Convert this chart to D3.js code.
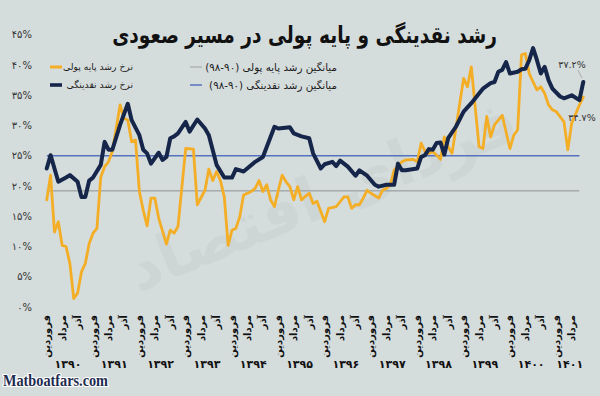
<!DOCTYPE html>
<html><head><meta charset="utf-8">
<script src="https://cdn.jsdelivr.net/npm/d3@7"></script>
<style>
html,body{margin:0;padding:0;background:#d5dcdc;}
svg{display:block;}
</style></head>
<body>
<svg id="chart" width="600" height="396"></svg>
<script>
// ---------- DATA ----------
const title = "رشد نقدینگی و پایه پولی در مسیر صعودی";
const years = ["1390","1391","1392","1393","1394","1395","1396","1397","1398","1399","1400","1401"];
const monthsPerYear = [12,12,12,12,12,12,12,12,12,12,12,8];
const monthLabels = ["فروردین","مرداد","آذر"];
const monthLabelOffsets = [0,4,8];
const yTicks = [0,5,10,15,20,25,30,35,40,45];

const seriesNames = ["نرخ رشد پایه پولی","نرخ رشد نقدینگی","میانگین رشد پایه پولی (۹۰-۹۸)","میانگین رشد نقدینگی (۹۰-۹۸)"];

// month index from Farvardin 1390
const liqMonths = [0,1,3,5,6,8,9,10,11,12,14,15,16,17,19,21,22,24,25,26,27,29,30,31,32,33,34,36,37,39,41,42,44,46,48,49,51,54,56,59,60,63,64,66,68,69,71,72,74,75,76,78,80,81,83,85,86,88,90,91,92,93,96,97,98,99,100,101,102,103,104,106,108,110,112,113,115,116,117,118,119,120,122,123,124,125,126,127,128,129,130,131,133,134,136,138,139];
const liqValues = [22.9,25.1,20.7,21.4,21.8,20.7,18.2,18.2,20.9,21.4,23.5,27.3,26.0,26.0,30.1,33.6,30.9,28.4,26.0,25.4,23.7,25.5,24.3,24.8,27.9,28.2,28.7,30.6,29.0,31.0,29.5,28.4,23.5,21.4,21.4,22.8,22.4,24.0,24.8,29.8,29.5,29.7,28.7,28.2,27.9,25.4,22.9,23.6,24.0,23.3,24.2,23.2,21.7,22.6,21.7,20.2,19.9,20.2,20.2,23.7,22.6,22.6,22.9,24.8,25.1,26.1,26.0,27.1,27.2,25.2,27.9,29.8,32.3,33.7,35.3,36.1,37.0,37.2,38.9,39.2,40.5,38.6,38.9,39.3,39.4,40.8,42.8,40.8,38.6,39.7,37.5,36.1,34.8,34.5,35.0,34.2,37.2];

const baseMonths = [0,1,2,3,4,5,6,7,8,9,10,11,12,13,14,15,16,17,19,20,21,22,23,24,25,26,27,28,29,31,32,33,34,36,38,39,41,42,43,44,45,46,47,48,49,50,51,53,54,55,56,57,58,59,60,61,62,63,64,65,66,67,68,69,70,72,73,75,76,77,78,79,80,81,82,83,84,86,87,88,89,90,92,93,95,96,97,98,99,100,101,102,103,104,105,108,109,110,111,112,113,114,115,116,118,120,121,122,123,124,125,126,127,128,129,130,131,132,134,135,136,138,139];
const baseValues = [17.7,21.8,12.4,14.1,10.2,10.0,7.2,1.4,2.3,5.8,7.2,10.5,12.2,13.0,21.5,23.2,24.0,25.7,33.4,31.2,30.9,27.3,27.6,19.1,16.0,13.4,18.0,18.0,14.7,10.4,12.7,12.2,13.3,26.2,26.1,16.9,19.3,22.8,20.9,22.4,20.9,18.2,10.2,12.7,13.0,14.9,18.5,19.1,19.6,20.9,19.1,20.2,17.7,16.6,19.3,21.8,20.7,19.9,17.7,19.9,17.7,18.3,18.8,17.1,17.5,14.1,16.3,16.6,17.4,18.2,18.2,16.3,16.9,16.9,18.0,19.3,18.8,18.0,19.3,19.6,20.2,22.6,24.0,24.3,24.4,24.0,27.1,25.7,25.4,25.7,25.1,24.4,28.1,26.5,25.4,37.8,36.4,39.7,33.1,26.5,26.2,31.5,28.1,30.1,31.7,26.2,28.4,29.3,41.7,41.9,38.6,37.2,35.9,36.4,35.3,33.4,32.6,32.3,30.6,26.0,30.4,33.4,34.7];

const avgMonths = [0,138];
const avgLiqValue = 25.0;
const avgBaseValue = 19.2;
const endLabelLiq = "37.2%";
const endLabelBase = "34.7%";

// ---------- HELPERS ----------
const fa = s => String(s).replace(/[0-9]/g, d => "۰۱۲۳۴۵۶۷۸۹"[+d]);
const FONT = "DejaVu Sans";
const totalMonths = d3.sum(monthsPerYear);

const svg = d3.select("#chart");
const x = d3.scaleLinear().domain([0,totalMonths]).range([44.8, 44.8 + totalMonths*3.86]);
const y = d3.scaleLinear().domain([0,45]).range([307, 34.8]);
const px = m => x(m + 0.5);

svg.append("rect").attr("width",600).attr("height",396).attr("fill","#d5dcdc");

// watermark
svg.append("text")
  .attr("transform","translate(330,215) rotate(-22)")
  .attr("text-anchor","middle").attr("direction","rtl")
  .attr("font-family",FONT).attr("font-weight","bold").attr("font-size",62)
  .attr("fill","#c6cdcd").attr("opacity",0.45)
  .text("فردای اقتصاد");

// fit helper: position text so its bbox right edge = right, width = w
function fitRight(sel, right, w){
  const node = sel.node();
  let bb = node.getBBox();
  if (w){
    const fs = parseFloat(sel.attr("font-size"));
    sel.attr("font-size", fs * w / bb.width);
    bb = node.getBBox();
  }
  const cur = parseFloat(sel.attr("x"));
  sel.attr("x", cur + (right - (bb.x + bb.width)));
  return parseFloat(sel.attr("font-size"));
}

// title
const tg = svg.append("g").attr("transform","translate(0,43) scale(1,1.25)");
const t = tg.append("text").attr("x",0).attr("y",0)
  .attr("direction","rtl").attr("font-family",FONT).attr("font-weight","bold")
  .attr("font-size",24).attr("fill","#111").text(title);
fitRight(t, 497, 385);

// y axis labels
svg.append("g").selectAll("text").data(yTicks).join("text")
  .attr("x",32).attr("y",d=>y(d)).attr("dy","0.35em")
  .attr("text-anchor","end").attr("font-family",FONT).attr("font-size",10)
  .attr("fill","#333").text(d=>fa(d)+"%");

// x axis month labels
const monthTicks = [];
let start = 0;
years.forEach((yr,i)=>{
  monthLabelOffsets.forEach((o,j)=>{ if (o < monthsPerYear[i]) monthTicks.push({m:start+o, label:monthLabels[j]}); });
  start += monthsPerYear[i];
});
svg.append("g").selectAll("text").data(monthTicks).join("text")
  .attr("transform",d=>`translate(${px(d.m)},315) rotate(-90)`)
  .attr("text-anchor","end").attr("dominant-baseline","central")
  .attr("font-family",FONT).attr("font-weight","bold").attr("font-size",10).attr("fill","#111")
  .text(d=>d.label);

// year labels
let acc = 0;
const yearPos = years.map((yr,i)=>{ const c = acc + monthsPerYear[i]/2; acc += monthsPerYear[i]; return {yr, c}; });
svg.append("g").selectAll("text").data(yearPos).join("text")
  .attr("x",d=>x(d.c)).attr("y",364).attr("dy","0.35em").attr("text-anchor","middle")
  .attr("font-family",FONT).attr("font-weight","bold").attr("font-size",11).attr("fill","#111")
  .text(d=>fa(d.yr));

// average lines
const line = d3.line().x(d=>px(d[0])).y(d=>y(d[1]));
svg.append("path").attr("d", line(avgMonths.map(m=>[m,avgBaseValue])))
  .attr("fill","none").attr("stroke","#8e9393").attr("stroke-width",1);
svg.append("path").attr("d", line(avgMonths.map(m=>[m,avgLiqValue])))
  .attr("fill","none").attr("stroke","#5573bd").attr("stroke-width",1.5);

// base money (yellow)
svg.append("path").attr("d", line(baseMonths.map((m,i)=>[m,baseValues[i]])))
  .attr("fill","none").attr("stroke","#f4ae26").attr("stroke-width",2.8)
  .attr("stroke-linejoin","round").attr("stroke-linecap","round");
// liquidity (navy)
svg.append("path").attr("d", line(liqMonths.map((m,i)=>[m,liqValues[i]])))
  .attr("fill","none").attr("stroke","#15264a").attr("stroke-width",4)
  .attr("stroke-linejoin","round").attr("stroke-linecap","round");

// end labels
svg.append("line").attr("x1",578).attr("y1",70).attr("x2",582).attr("y2",78)
  .attr("stroke","#9aa0a0").attr("stroke-width",0.8);
svg.append("text").attr("x",572).attr("y",65).attr("dy","0.35em").attr("text-anchor","middle")
  .attr("font-family",FONT).attr("font-size",9.5).attr("fill","#333").text(fa(endLabelLiq));
svg.append("text").attr("x",582).attr("y",118).attr("dy","0.35em").attr("text-anchor","middle")
  .attr("font-family",FONT).attr("font-size",9.5).attr("fill","#333").text(fa(endLabelBase));

// legend
const legend = [
  {name:seriesNames[0], color:"#f4ae26", w:3, x1:50, x2:62, right:133, y:67, fit:70},
  {name:seriesNames[1], color:"#15264a", w:3.6, x1:50, x2:62, right:133, y:85, fit:0},
  {name:seriesNames[2], color:"#9aa0a0", w:1, x1:190, x2:202, right:337, y:67, fit:132},
  {name:seriesNames[3], color:"#5573bd", w:1.5, x1:190, x2:202, right:337, y:85, fit:0}
];
let lastFs = 11;
legend.forEach(l=>{
  svg.append("line").attr("x1",l.x1).attr("x2",l.x2).attr("y1",l.y).attr("y2",l.y)
    .attr("stroke",l.color).attr("stroke-width",l.w);
  const tx = svg.append("text").attr("x",0).attr("y",l.y).attr("dy","0.35em")
    .attr("direction","rtl").attr("font-family",FONT).attr("font-size",l.fit ? 11 : lastFs)
    .attr("fill","#1a1a1a").text(l.name);
  const fs = fitRight(tx, l.right, l.fit || null);
  lastFs = fs;
});

// source
svg.append("text").attr("x",3).attr("y",386)
  .attr("font-family","Liberation Serif").attr("font-size",16).attr("font-weight","bold")
  .attr("fill","#1d2b50").attr("stroke","#ffffff").attr("stroke-width",2.2)
  .attr("paint-order","stroke").attr("textLength",105).attr("lengthAdjust","spacingAndGlyphs")
  .text("Matboatfars.com");
</script>
</body></html>
